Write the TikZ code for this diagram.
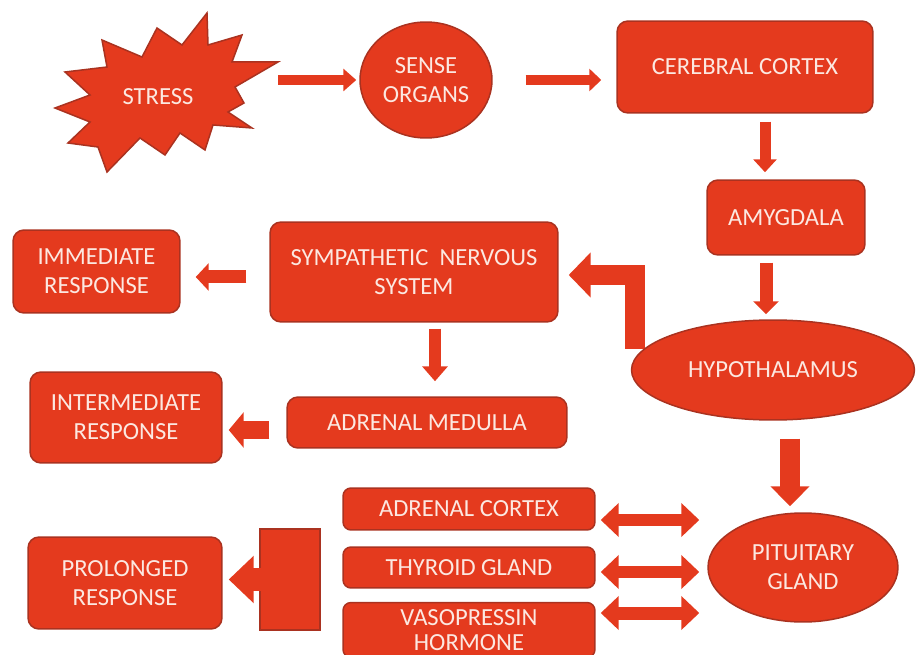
\documentclass[tikz,border=0pt]{standalone}
\usepackage{fontspec}
\setmainfont{Carlito}
\usetikzlibrary{shapes.geometric,arrows.meta}
\definecolor{organred}{RGB}{228,58,30}
\definecolor{organline}{RGB}{170,50,32}
\definecolor{labelwhite}{RGB}{252,232,225}
\newcommand{\labelfont}{\fontsize{14}{16.5}\selectfont}

\begin{document}
\begin{tikzpicture}[x=0.02cm,y=-0.02cm,
  box/.style={draw=organline,fill=organred,line width=0.03cm,rounded corners=0.22cm,
    text=labelwhite,align=center,font=\labelfont,inner sep=0pt},
  oval/.style={box,ellipse,sharp corners},
  flow/.style n args={3}{draw=organred,line width=#1,-{Triangle[width=#2,length=#3]}},
  twoway/.style n args={3}{draw=organred,line width=#1,
    {Triangle[width=#2,length=#3]}-{Triangle[width=#2,length=#3]}}]

\useasboundingbox (0,0) rectangle (920,655);
\clip (0,0) rectangle (920,655);

% Stress burst
\filldraw[draw=organline,fill=organred,line width=0.03cm,line join=miter]
  (207,13) -- (208,45) -- (242,35) -- (232,62) -- (278,62) -- (235,87) -- (244,103)
  -- (228,112) -- (252,128) -- (213,125) -- (205,150) -- (180,133) -- (165,155)
  -- (140,138) -- (107,172) -- (98,147) -- (68,143) -- (90,122) -- (55,108)
  -- (90,95) -- (65,72) -- (107,67) -- (102,40) -- (142,57) -- (157,28) -- (182,45) -- cycle;
\node[text=labelwhite,font=\labelfont,minimum width=4.8cm,inner sep=0pt] (stress) at (158,97) {STRESS};

% Upper chain
\node[oval,minimum width=2.64cm,minimum height=2.32cm] (sense) at (426,80) {SENSE\\ORGANS};
\node[box,minimum width=5.12cm,minimum height=1.84cm] (cerebral) at (745,67) {CEREBRAL CORTEX};
\node[box,minimum width=3.16cm,minimum height=1.5cm] (amygdala) at (786,217.5) {AMYGDALA};

% Sympathetic branch
\node[box,minimum width=5.76cm,minimum height=2cm] (sns) at (414,272) {SYMPATHETIC~ NERVOUS\\SYSTEM};
\node[box,minimum width=3.34cm,minimum height=1.66cm] (immediate) at (96.5,271.5) {IMMEDIATE\\RESPONSE};
\node[box,minimum width=5.6cm,minimum height=1.02cm] (medulla) at (427,422.5) {ADRENAL MEDULLA};
\node[box,minimum width=3.84cm,minimum height=1.82cm] (intermediate) at (126,417.5) {INTERMEDIATE\\RESPONSE};

% Bent arrow to the nervous system (under the hypothalamus)
\coordinate (hypoUp) at (635,349);
\draw[flow={0.4cm}{0.88cm}{0.44cm},line join=miter,shorten >=0.2cm] (hypoUp) |- ([yshift=-0.06cm]sns.east);

\node[oval,minimum width=5.66cm,minimum height=2cm] (hypo) at (773,370) {HYPOTHALAMUS};
\node[oval,minimum width=3.8cm,minimum height=2.18cm] (pituitary) at (803,567.5) {PITUITARY\\GLAND};

% Glands
\node[box,rounded corners=0.16cm,minimum width=5.04cm,minimum height=0.84cm] (cortex) at (469,509) {ADRENAL CORTEX};
\node[box,rounded corners=0.16cm,minimum width=5.04cm,minimum height=0.82cm] (thyroid) at (469,567.5) {THYROID GLAND};
\node[box,rounded corners=0.16cm,minimum width=5.04cm,minimum height=1.1cm] (vaso) at (469,630) {VASOPRESSIN\\[-2.5pt]HORMONE};
\node[box,minimum width=3.88cm,minimum height=1.84cm] (prolonged) at (125,583) {PROLONGED\\RESPONSE};
\node[box,sharp corners,minimum width=1.2cm,minimum height=2.02cm] (bracket) at (290,579.5) {};

% Arrows
\draw[flow={0.2cm}{0.44cm}{0.26cm},shorten >=0.06cm] (stress.east |- sense.west) -- (sense.west);
\draw[flow={0.2cm}{0.44cm}{0.24cm},shorten <=0.66cm,shorten >=0.3cm] (sense.east) -- (sense.east -| cerebral.west);
\draw[flow={0.22cm}{0.46cm}{0.26cm},shorten <=0.16cm,shorten >=0.14cm] ([xshift=0.4cm]cerebral.south) -- ([xshift=0.4cm]cerebral.south |- amygdala.north);
\draw[flow={0.26cm}{0.5cm}{0.26cm},shorten <=0.14cm,shorten >=0.1cm] ([xshift=-0.4cm]amygdala.south) -- ([xshift=-0.4cm]amygdala.south |- hypo.north);
\draw[flow={0.4cm}{0.76cm}{0.4cm},shorten <=0.36cm,shorten >=0.12cm] ([xshift=0.34cm]hypo.south) -- ([xshift=0.34cm]hypo.south |- pituitary.north);
\draw[flow={0.26cm}{0.54cm}{0.26cm},shorten <=0.46cm,shorten >=0.3cm] ([yshift=-0.1cm]sns.west) -- ([yshift=-0.1cm]sns.west -| immediate.east);
\draw[flow={0.26cm}{0.5cm}{0.3cm},shorten <=0.12cm,shorten >=0.3cm] ([xshift=0.42cm]sns.south) -- ([xshift=0.42cm]sns.south |- medulla.north);
\draw[flow={0.36cm}{0.7cm}{0.3cm},shorten <=0.34cm,shorten >=0.12cm] ([yshift=-0.15cm]medulla.west) -- ([yshift=-0.15cm]medulla.west -| intermediate.east);
\draw[twoway={0.26cm}{0.66cm}{0.36cm},shorten <=0.1cm,shorten >=0.16cm] ([yshift=-0.22cm]cortex.east) -- ([yshift=-0.22cm]cortex.east -| pituitary.west);
\draw[twoway={0.26cm}{0.66cm}{0.36cm},shorten <=0.1cm,shorten >=0.16cm] ([yshift=-0.09cm]thyroid.east) -- ([yshift=-0.09cm]thyroid.east -| pituitary.west);
\draw[twoway={0.26cm}{0.66cm}{0.36cm},shorten <=0.1cm,shorten >=0.16cm] ([yshift=0.34cm]vaso.east) -- ([yshift=0.34cm]vaso.east -| pituitary.west);
\draw[flow={0.48cm}{0.92cm}{0.5cm},shorten >=0.12cm] ([xshift=0.06cm]bracket.west) -- (bracket.west -| prolonged.east);

\end{tikzpicture}
\end{document}
